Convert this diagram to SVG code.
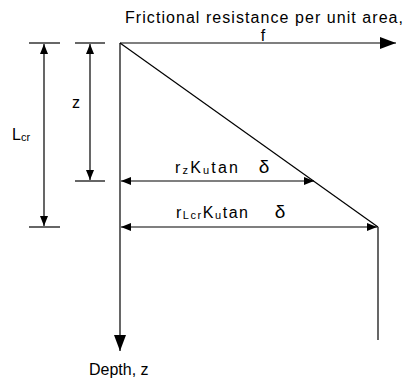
<svg xmlns="http://www.w3.org/2000/svg" width="406" height="382" viewBox="0 0 406 382">
  <defs>
    <!-- large head for the two axes -->
    <marker id="axis-head" viewBox="0 0 16 12" refX="16" refY="6" markerWidth="16" markerHeight="12" markerUnits="userSpaceOnUse" orient="auto">
      <path d="M0,0 L16,6 L0,12 Z" fill="#000"/>
    </marker>
    <!-- small head for dimension lines -->
    <marker id="dim-head" viewBox="0 0 10 8" refX="10" refY="4" markerWidth="10" markerHeight="8" markerUnits="userSpaceOnUse" orient="auto-start-reverse">
      <path d="M0,0 L10,4 L0,8 Z" fill="#000"/>
    </marker>
  </defs>
  <style>
    line { stroke:#000; stroke-width:1.2; fill:none; }
    text { font-family:"Liberation Sans", Arial, sans-serif; font-size:16px; fill:#000; }
    .sub { font-size:11px; }
    .delta { font-size:19px; }
  </style>
  <rect width="406" height="382" fill="#fff"/>
  <g id="connectors">
    <!-- axes -->
    <line x1="120" y1="43" x2="396" y2="43" marker-end="url(#axis-head)"/>
    <line x1="120" y1="43" x2="120" y2="351" marker-end="url(#axis-head)"/>
    <!-- friction distribution -->
    <line x1="120" y1="43" x2="378" y2="227"/>
    <line x1="378" y1="227" x2="378" y2="340"/>
    <!-- z dimension -->
    <line x1="75" y1="43" x2="105" y2="43"/>
    <line x1="75" y1="181" x2="105" y2="181"/>
    <line x1="90" y1="44" x2="90" y2="180" marker-start="url(#dim-head)" marker-end="url(#dim-head)"/>
    <!-- Lcr dimension -->
    <line x1="29" y1="43" x2="60" y2="43"/>
    <line x1="29" y1="227" x2="60" y2="227"/>
    <line x1="44" y1="44" x2="44" y2="226" marker-start="url(#dim-head)" marker-end="url(#dim-head)"/>
    <!-- horizontal dimensions -->
    <line x1="121" y1="181" x2="314" y2="181" marker-start="url(#dim-head)" marker-end="url(#dim-head)"/>
    <line x1="121" y1="227" x2="377" y2="227" marker-start="url(#dim-head)" marker-end="url(#dim-head)"/>
  </g>
  <g id="label-f">
    <text x="125" y="23" textLength="278" lengthAdjust="spacing">Frictional resistance per unit area,</text>
    <text x="263" y="41" text-anchor="middle">f</text>
  </g>
  <g id="label-z">
    <text x="76" y="108" text-anchor="middle">z</text>
  </g>
  <g id="label-lcr">
    <text x="12" y="140">L<tspan class="sub" dy="1">cr</tspan></text>
  </g>
  <g id="label-rz">
    <text x="175" y="173" textLength="63" lengthAdjust="spacing">r<tspan class="sub" dy="1">z</tspan><tspan dy="-1">K</tspan><tspan class="sub" dy="1">u</tspan><tspan dy="-1">tan</tspan></text>
    <text class="delta" x="264" y="173" text-anchor="middle">δ</text>
  </g>
  <g id="label-rl">
    <text x="176" y="218" textLength="72" lengthAdjust="spacing">r<tspan class="sub" dy="1">Lcr</tspan><tspan dy="-1">K</tspan><tspan class="sub" dy="1">u</tspan><tspan dy="-1">tan</tspan></text>
    <text class="delta" x="280" y="218" text-anchor="middle">δ</text>
  </g>
  <g id="label-depth">
    <text x="89" y="375">Depth, z</text>
  </g>
</svg>
